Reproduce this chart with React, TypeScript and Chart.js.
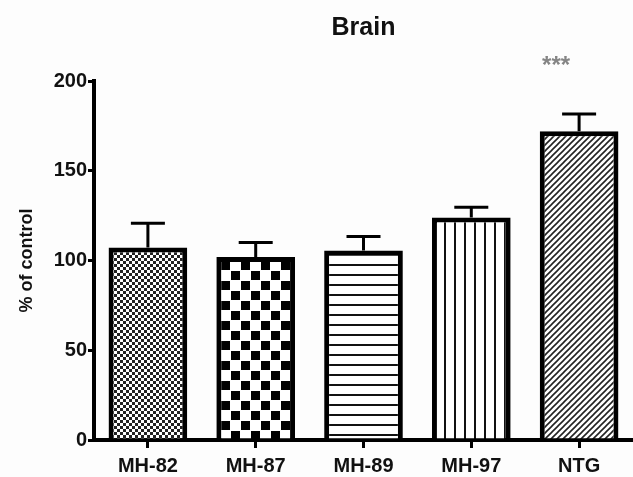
import React, { useEffect, useRef } from 'react';
import { Chart, registerables } from 'chart.js';

Chart.register(...registerables);

const categories = ['MH-82', 'MH-87', 'MH-89', 'MH-97', 'NTG'];
const means = [107.3, 102, 105.6, 124, 172];
const sems = [13.4, 8, 7.8, 5.6, 9.6];
const significance = ['', '', '', '', '***'];
const patternKinds = ['fineCheck', 'check', 'hLines', 'vLines', 'diagonal'];
const yMin = 0;
const yMax = 200;
const yStep = 50;
const chartTitle = 'Brain';
const yTitle = '% of control';

const SANS = "'Liberation Sans', Arial, Helvetica, sans-serif";

function makePattern(ctx: CanvasRenderingContext2D, kind: string): CanvasPattern | string {
  const c = document.createElement('canvas');
  const g = c.getContext('2d')!;
  let s = 10;
  if (kind === 'fineCheck') {
    s = 6;
    c.width = s; c.height = s;
    g.fillStyle = '#fff'; g.fillRect(0, 0, s, s);
    g.fillStyle = '#222';
    g.fillRect(0, 0, 3, 3);
    g.fillRect(3, 3, 3, 3);
  } else if (kind === 'check') {
    s = 20;
    c.width = s; c.height = s;
    g.fillStyle = '#fff'; g.fillRect(0, 0, s, s);
    g.fillStyle = '#000';
    g.fillRect(1, 1, 9, 9);
    g.fillRect(11, 11, 9, 9);
  } else if (kind === 'hLines') {
    s = 10;
    c.width = s; c.height = s;
    g.fillStyle = '#fff'; g.fillRect(0, 0, s, s);
    g.fillStyle = '#111';
    g.fillRect(0, 4, s, 2);
  } else if (kind === 'vLines') {
    s = 10;
    c.width = s; c.height = s;
    g.fillStyle = '#fff'; g.fillRect(0, 0, s, s);
    g.fillStyle = '#111';
    g.fillRect(4, 0, 2, s);
  } else {
    s = 6;
    c.width = s; c.height = s;
    g.fillStyle = '#fff'; g.fillRect(0, 0, s, s);
    g.strokeStyle = '#222';
    g.lineWidth = 1.6;
    g.beginPath();
    g.moveTo(-1, s + 1); g.lineTo(s + 1, -1);
    g.moveTo(-1, 1); g.lineTo(1, -1);
    g.moveTo(s - 1, s + 1); g.lineTo(s + 1, s - 1);
    g.stroke();
  }
  return ctx.createPattern(c, 'repeat') || '#fff';
}

const errorBarPlugin = {
  id: 'errorBars',
  afterDatasetsDraw(chart: any) {
    const ctx = chart.ctx as CanvasRenderingContext2D;
    const meta = chart.getDatasetMeta(0);
    const y = chart.scales.y;
    ctx.save();
    ctx.strokeStyle = '#000';
    ctx.lineWidth = 3;
    meta.data.forEach((bar: any, i: number) => {
      const x = bar.x;
      const yb = y.getPixelForValue(means[i]);
      const yt = y.getPixelForValue(means[i] + sems[i]);
      ctx.beginPath();
      ctx.moveTo(x, yb);
      ctx.lineTo(x, yt);
      ctx.moveTo(x - 17, yt);
      ctx.lineTo(x + 17, yt);
      ctx.stroke();
      if (significance[i]) {
        ctx.fillStyle = '#858585';
        ctx.font = `bold 24px ${SANS}`;
        ctx.textAlign = 'center';
        ctx.textBaseline = 'middle';
        ctx.fillText(significance[i], x - 23, yt - 48);
      }
    });
    ctx.restore();
  },
};

const bgPlugin = {
  id: 'bg',
  beforeDraw(chart: any) {
    const ctx = chart.ctx;
    ctx.save();
    ctx.fillStyle = '#fdfdfd';
    ctx.fillRect(0, 0, chart.width, chart.height);
    ctx.restore();
  },
};

export default function App() {
  const ref = useRef<HTMLCanvasElement>(null);
  useEffect(() => {
    const canvas = ref.current!;
    const ctx = canvas.getContext('2d')!;
    const patterns = patternKinds.map((k) => makePattern(ctx, k));
    const chart = new Chart(canvas, {
      type: 'bar',
      data: {
        labels: categories,
        datasets: [
          {
            data: means,
            backgroundColor: patterns as any,
            borderColor: '#000',
            borderWidth: 5,
            borderSkipped: 'start',
            categoryPercentage: 1,
            barPercentage: 0.73,
          },
        ],
      },
      options: {
        animation: false,
        responsive: false,
        maintainAspectRatio: false,
        devicePixelRatio: 1,
        layout: { padding: { left: 0, right: 0, top: 0, bottom: 0 } },
        plugins: {
          legend: { display: false },
          tooltip: { enabled: false },
          title: {
            display: true,
            fullSize: false,
            text: chartTitle,
            color: '#111',
            font: { family: SANS, size: 25, weight: 'bold', lineHeight: 1.2 },
            padding: { top: 13, bottom: 38 },
          },
        },
        scales: {
          x: {
            offset: true,
            grid: {
              display: true,
              drawOnChartArea: false,
              drawTicks: true,
              tickLength: 8,
              color: '#000',
              lineWidth: 3,
              offset: false,
            },
            border: { display: true, color: '#000', width: 4 },
            ticks: {
              color: '#111',
              font: { family: SANS, size: 20, weight: 'bold' },
              padding: 6,
              maxRotation: 0,
            },
            afterFit(scale: any) {
              scale.height = 37;
            },
          },
          y: {
            min: yMin,
            max: yMax,
            grid: {
              display: true,
              drawOnChartArea: false,
              drawTicks: true,
              tickLength: 6,
              color: '#000',
              lineWidth: 3,
            },
            border: { display: true, color: '#000', width: 4 },
            ticks: {
              stepSize: yStep,
              color: '#111',
              font: { family: SANS, size: 20, weight: 'bold' },
              padding: 1,
            },
            title: {
              display: true,
              text: yTitle,
              color: '#111',
              font: { family: SANS, size: 18, weight: 'bold' },
              padding: { top: 16, bottom: 0 },
            },
            afterFit(scale: any) {
              scale.width = 94;
            },
          },
        },
      },
      plugins: [bgPlugin, errorBarPlugin],
    });
    return () => chart.destroy();
  }, []);
  return (
    <div style={{ position: 'fixed', left: 0, top: 0, width: 633, height: 477 }}>
      <canvas ref={ref} width={633} height={477} style={{ width: 633, height: 477, display: 'block' }} />
    </div>
  );
}
